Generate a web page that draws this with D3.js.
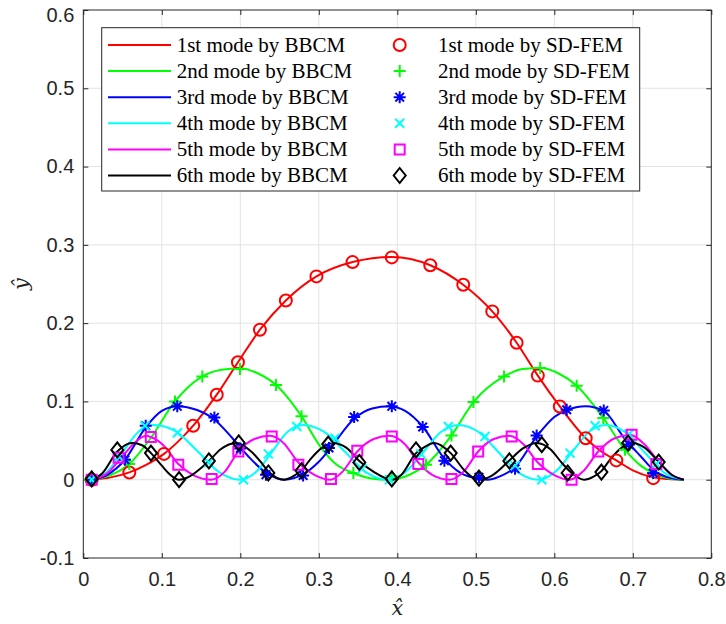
<!DOCTYPE html>
<html>
<head>
<meta charset="utf-8">
<title>Mode shapes</title>
<script src="https://cdn.jsdelivr.net/npm/d3@7"></script>
<style>
  body { margin: 0; background: #fff; }
</style>
</head>
<body>
<svg width="726" height="624" id="mainsvg"></svg>
<script>
// tick values
const xTicks = [0, 0.1, 0.2, 0.3, 0.4, 0.5, 0.6, 0.7, 0.8];
const yTicks = [-0.1, 0, 0.1, 0.2, 0.3, 0.4, 0.5, 0.6];

const modeNames = ['1st', '2nd', '3rd', '4th', '5th', '6th'];
const colors = ['#ff0000', '#00ff00', '#0000ff', '#00ffff', '#ff00ff', '#000000'];
const markerTypes = ['circle', 'plus', 'star', 'cross', 'square', 'diamond'];

// BBCM curves [x, y]
const bbcm1 = [[0.01,0],[0.035,0.003],[0.0586,0.0093],[0.08,0.019],[0.1028,0.033],[0.12,0.048],[0.14,0.069],[0.155,0.088],[0.17,0.1086],[0.197,0.15],[0.225,0.1916],[0.258,0.229],[0.297,0.2597],[0.343,0.278],[0.393,0.2845],[0.442,0.274],[0.484,0.249],[0.521,0.215],[0.552,0.175],[0.579,0.133],[0.607,0.0936],[0.64,0.053],[0.66,0.036],[0.679,0.0247],[0.7,0.012],[0.726,0.003],[0.745,0.0008],[0.765,0]];
const bbcm2 = [[0.01,0],[0.035,0.006],[0.0586,0.02],[0.085,0.052],[0.1168,0.1],[0.1516,0.132],[0.176,0.1405],[0.1996,0.1425],[0.222,0.136],[0.2455,0.121],[0.278,0.081],[0.3015,0.043],[0.3228,0.019],[0.344,0.0086],[0.365,0.002],[0.39,0],[0.415,0.006],[0.4366,0.019],[0.469,0.0566],[0.497,0.0992],[0.536,0.132],[0.56,0.1415],[0.582,0.1426],[0.605,0.136],[0.6285,0.12],[0.6624,0.0788],[0.69,0.0383],[0.71,0.018],[0.726,0.0086],[0.745,0.002],[0.765,0]];
const bbcm3 = [[0.01,0],[0.03,0.006],[0.053,0.0255],[0.0795,0.067],[0.1,0.088],[0.12,0.094],[0.145,0.089],[0.167,0.077],[0.19,0.053],[0.21,0.03],[0.2327,0.009],[0.256,0],[0.28,0.007],[0.3,0.023],[0.313,0.038],[0.345,0.078],[0.368,0.091],[0.39,0.094],[0.41,0.088],[0.4323,0.068],[0.46,0.027],[0.48,0.009],[0.505,0.001],[0.515,0],[0.53,0.004],[0.55,0.016],[0.5775,0.055],[0.6,0.08],[0.6158,0.089],[0.64,0.094],[0.663,0.088],[0.69,0.052],[0.71,0.03],[0.728,0.011],[0.745,0.003],[0.765,0]];
const bbcm4 = [[0.01,0],[0.03,0.01],[0.05,0.035],[0.07,0.061],[0.09,0.07],[0.1175,0.062],[0.145,0.037],[0.1725,0.01],[0.2,0],[0.22,0.01],[0.24,0.035],[0.26,0.061],[0.28,0.07],[0.307,0.061],[0.334,0.035],[0.361,0.009],[0.388,0],[0.4105,0.01],[0.433,0.035],[0.4555,0.061],[0.478,0.07],[0.5035,0.061],[0.529,0.035],[0.5545,0.009],[0.58,0],[0.601,0.01],[0.6225,0.035],[0.644,0.061],[0.665,0.07],[0.69,0.061],[0.715,0.035],[0.74,0.009],[0.765,0]];
const bbcm5 = [[0.01,0],[0.03,0.008],[0.05,0.03],[0.065,0.047],[0.08,0.056],[0.086,0.0545],[0.104,0.042],[0.121,0.02],[0.14,0.006],[0.163,0],[0.18,0.01],[0.1975,0.036],[0.218,0.052],[0.238,0.056],[0.255,0.047],[0.274,0.022],[0.295,0.006],[0.315,0],[0.33,0.01],[0.349,0.036],[0.37,0.052],[0.39,0.056],[0.41,0.045],[0.4268,0.022],[0.445,0.006],[0.467,0],[0.485,0.011],[0.503,0.036],[0.523,0.052],[0.543,0.056],[0.56,0.046],[0.579,0.022],[0.6,0.006],[0.62,0],[0.637,0.011],[0.656,0.036],[0.677,0.053],[0.697,0.057],[0.715,0.045],[0.733,0.023],[0.75,0.006],[0.765,0]];
const bbcm6 = [[0.01,0],[0.024,0.008],[0.0433,0.036],[0.062,0.047],[0.075,0.044],[0.0862,0.034],[0.1,0.018],[0.11,0.007],[0.122,0],[0.135,0.004],[0.15,0.015],[0.16,0.024],[0.175,0.039],[0.195,0.047],[0.215,0.035],[0.225,0.024],[0.2357,0.0105],[0.256,0],[0.27,0.006],[0.278,0.012],[0.29,0.027],[0.303,0.04],[0.318,0.047],[0.335,0.041],[0.3516,0.024],[0.37,0.01],[0.393,0],[0.405,0.006],[0.4238,0.034],[0.435,0.042],[0.447,0.047],[0.468,0.034],[0.485,0.0125],[0.495,0.0035],[0.505,0],[0.52,0.005],[0.5427,0.0245],[0.56,0.04],[0.578,0.047],[0.595,0.039],[0.61,0.021],[0.624,0.007],[0.638,0],[0.65,0.004],[0.66,0.011],[0.672,0.027],[0.686,0.041],[0.7,0.047],[0.715,0.041],[0.733,0.0228],[0.75,0.006],[0.765,0]];

// SD-FEM points [x, y]
const fem1 = [[0.0107,0],[0.0586,0.0093],[0.1028,0.033],[0.14,0.069],[0.17,0.1086],[0.197,0.15],[0.225,0.1916],[0.258,0.229],[0.297,0.2597],[0.343,0.278],[0.393,0.284],[0.442,0.274],[0.484,0.249],[0.521,0.215],[0.552,0.175],[0.579,0.133],[0.607,0.0936],[0.64,0.053],[0.679,0.0247],[0.726,0.002]];
const fem2 = [[0.0086,0],[0.0586,0.02],[0.1168,0.1],[0.1516,0.132],[0.1996,0.1413],[0.2455,0.121],[0.278,0.081],[0.344,0.0086],[0.393,0.004],[0.4366,0.019],[0.469,0.0566],[0.497,0.0992],[0.536,0.132],[0.582,0.1426],[0.6285,0.12],[0.6624,0.0788],[0.69,0.0383],[0.726,0.0086]];
const fem3 = [[0.0107,0],[0.053,0.0255],[0.0795,0.069],[0.1197,0.0937],[0.167,0.0796],[0.2,0.04],[0.2327,0.0064],[0.28,0.0055],[0.313,0.0405],[0.345,0.08],[0.393,0.0937],[0.4323,0.0673],[0.46,0.0243],[0.504,0.003],[0.55,0.014],[0.5775,0.0566],[0.6158,0.0894],[0.663,0.0885],[0.695,0.045],[0.726,0.0086]];
const fem4 = [[0.0107,0],[0.045,0.03],[0.0786,0.069],[0.12,0.06],[0.16,0.022],[0.204,0],[0.2357,0.033],[0.272,0.068],[0.3206,0.053],[0.355,0.014],[0.39,0],[0.43,0.033],[0.465,0.068],[0.5117,0.0553],[0.55,0.018],[0.584,0],[0.62,0.034],[0.652,0.069],[0.695,0.058],[0.73,0.02]];
const fem5 = [[0.0107,0],[0.045,0.028],[0.086,0.0545],[0.121,0.019],[0.1635,0.001],[0.1975,0.036],[0.24,0.0553],[0.274,0.019],[0.3155,0.001],[0.349,0.037],[0.393,0.0553],[0.4268,0.02],[0.469,0.001],[0.503,0.036],[0.5457,0.0553],[0.579,0.02],[0.622,0],[0.656,0.036],[0.6985,0.0575],[0.73,0.02]];
const fem6 = [[0.0107,0.001],[0.0433,0.038],[0.0862,0.034],[0.122,0],[0.16,0.024],[0.198,0.047],[0.2357,0.0086],[0.278,0.0115],[0.312,0.0455],[0.3516,0.022],[0.393,0.001],[0.4238,0.038],[0.468,0.034],[0.504,0.002],[0.5427,0.024],[0.584,0.0447],[0.617,0.0086],[0.66,0.0098],[0.694,0.0468],[0.733,0.0226]];

const bbcm = [bbcm1, bbcm2, bbcm3, bbcm4, bbcm5, bbcm6];
const fem = [fem1, fem2, fem3, fem4, fem5, fem6];

const svg = d3.select('#mainsvg');
const plotLeft = 83.3, plotRight = 711.3, plotTop = 10, plotBottom = 558;
const axisColor = '#262626';

const x = d3.scaleLinear().domain([0, 0.8]).range([plotLeft, plotRight]);
const y = d3.scaleLinear().domain([-0.1, 0.6]).range([plotBottom, plotTop]);

// grid
const grid = svg.append('g').attr('stroke', '#e3e3e3').attr('stroke-width', 1);
grid.selectAll('.gx').data(xTicks.slice(1, -1)).enter().append('line')
  .attr('x1', d => x(d)).attr('x2', d => x(d)).attr('y1', plotTop).attr('y2', plotBottom);
grid.selectAll('.gy').data(yTicks.slice(1, -1)).enter().append('line')
  .attr('y1', d => y(d)).attr('y2', d => y(d)).attr('x1', plotLeft).attr('x2', plotRight);

// axes (ticks inside, MATLAB style)
const fmt = d => String(d);
const styleAxis = g => {
  g.select('.domain').remove();
  g.selectAll('line').attr('stroke', axisColor);
  g.selectAll('text').attr('fill', axisColor).style('font-family', '"Liberation Sans", Arial, sans-serif').style('font-size', '20px');
};
svg.append('g').attr('transform', `translate(0,${plotBottom})`)
  .call(d3.axisBottom(x).tickValues(xTicks).tickFormat(fmt).tickSize(-5).tickPadding(14)).call(styleAxis);
svg.append('g').attr('transform', `translate(0,${plotTop})`)
  .call(d3.axisTop(x).tickValues(xTicks).tickFormat('').tickSize(-5)).call(styleAxis);
const yAxisG = svg.append('g').attr('transform', `translate(${plotLeft},0)`)
  .call(d3.axisLeft(y).tickValues(yTicks).tickFormat(fmt).tickSize(-5).tickPadding(9)).call(styleAxis);
// top label sits a little lower so it stays inside the figure
yAxisG.selectAll('.tick').filter(d => d === 0.6).select('text').attr('dy', '0.55em');
svg.append('g').attr('transform', `translate(${plotRight},0)`)
  .call(d3.axisRight(y).tickValues(yTicks).tickFormat('').tickSize(-5)).call(styleAxis);

svg.append('rect').attr('x', plotLeft).attr('y', plotTop).attr('width', plotRight - plotLeft).attr('height', plotBottom - plotTop)
  .attr('fill', 'none').attr('stroke', axisColor).attr('stroke-width', 1);

// marker shapes
const markerPath = (type) => {
  switch (type) {
    case 'circle': return 'M6,0A6,6 0 1,1 -6,0A6,6 0 1,1 6,0Z';
    case 'plus': return 'M-6,0H6M0,-6V6';
    case 'star': return 'M-6,0H6M0,-6V6M-4.3,-4.3L4.3,4.3M-4.3,4.3L4.3,-4.3';
    case 'cross': return 'M-4.5,-4.5L4.5,4.5M-4.5,4.5L4.5,-4.5';
    case 'square': return 'M-5,-5H5V5H-5Z';
    case 'diamond': return 'M0,-7.5L6,0L0,7.5L-6,0Z';
  }
};

const line = d3.line().x(d => x(d[0])).y(d => y(d[1])).curve(d3.curveMonotoneX);

// lines first
bbcm.forEach((data, i) => {
  svg.append('path').datum(data).attr('d', line)
    .attr('fill', 'none').attr('stroke', colors[i]).attr('stroke-width', 2);
});
// then the markers
fem.forEach((data, i) => {
  svg.append('g').selectAll('path').data(data).enter().append('path')
    .attr('transform', d => `translate(${x(d[0])},${y(d[1])})`)
    .attr('d', markerPath(markerTypes[i]))
    .attr('fill', 'none').attr('stroke', colors[i]).attr('stroke-width', 2);
});

// axis labels
svg.append('text').attr('x', (plotLeft + plotRight) / 2).attr('y', 615)
  .attr('text-anchor', 'middle').style('font-family', '"DejaVu Serif", serif').style('font-style', 'italic')
  .style('font-size', '21px').attr('fill', axisColor).text('x\u0302');
svg.append('text').attr('transform', `translate(28,${(plotTop + plotBottom) / 2}) rotate(-90)`)
  .attr('text-anchor', 'middle').style('font-family', '"DejaVu Serif", serif').style('font-style', 'italic')
  .style('font-size', '21px').attr('fill', axisColor).text('y\u0302');

// legend
const lg = svg.append('g');
lg.append('rect').attr('x', 101.7).attr('y', 27.7).attr('width', 538).attr('height', 163.3)
  .attr('fill', '#fff').attr('stroke', axisColor).attr('stroke-width', 1);
const rowY = i => 45 + i * 26.1;
modeNames.forEach((name, i) => {
  lg.append('line').attr('x1', 108).attr('x2', 171).attr('y1', rowY(i)).attr('y2', rowY(i))
    .attr('stroke', colors[i]).attr('stroke-width', 2);
  lg.append('text').attr('x', 176.7).attr('y', rowY(i)).attr('dy', '0.33em')
    .style('font-family', '"Liberation Serif", "Times New Roman", serif').style('font-size', '21px')
    .attr('fill', '#000').text(`${name} mode by BBCM`);
  lg.append('path').attr('transform', `translate(399.7,${rowY(i)})`).attr('d', markerPath(markerTypes[i]))
    .attr('fill', 'none').attr('stroke', colors[i]).attr('stroke-width', 2);
  lg.append('text').attr('x', 438).attr('y', rowY(i)).attr('dy', '0.33em')
    .style('font-family', '"Liberation Serif", "Times New Roman", serif').style('font-size', '21px')
    .attr('fill', '#000').text(`${name} mode by SD-FEM`);
});
</script>
</body>
</html>
